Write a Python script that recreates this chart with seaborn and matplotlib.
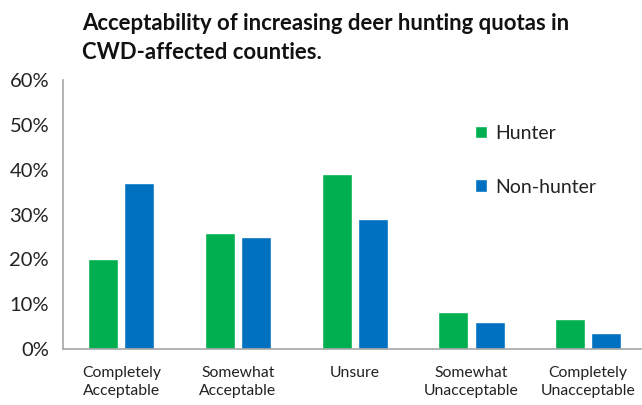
import matplotlib
matplotlib.use("Agg")
import matplotlib.pyplot as plt
import seaborn as sns
import pandas as pd
from matplotlib.ticker import FixedLocator, PercentFormatter

categories = ["Completely\nAcceptable", "Somewhat\nAcceptable", "Unsure",
              "Somewhat\nUnacceptable", "Completely\nUnacceptable"]
hunter = [20, 26, 39, 8.3, 6.7]
non_hunter = [37, 25, 29, 6, 3.5]
groups = ["Hunter", "Non-hunter"]
colors = ["#00B050", "#0070C0"]
title = "Acceptability of increasing deer hunting quotas in\nCWD-affected counties."

df = pd.DataFrame({
    "category": categories * 2,
    "group": [groups[0]] * len(categories) + [groups[1]] * len(categories),
    "value": [v / 100 for v in hunter + non_hunter],
})

sns.set_theme(style="white")
plt.rcParams["font.family"] = ["Lato", "DejaVu Sans"]

fig = plt.figure(figsize=(6.42, 4.05), dpi=100)
ax = fig.add_axes([0.098, 0.138, 0.9, 0.664])

sns.barplot(data=df, x="category", y="value", hue="group", order=categories,
            hue_order=groups, palette=colors, width=0.62, gap=0.17,
            saturation=1, ax=ax, legend=True)

ax.set_ylim(0, 0.6)
ax.set_xlim(-0.5, 4.45)
ax.yaxis.set_major_locator(FixedLocator([i / 10 for i in range(7)]))
ax.yaxis.set_major_formatter(PercentFormatter(1.0, decimals=0))
ax.set_xlabel("")
ax.set_ylabel("")

for side in ["top", "right"]:
    ax.spines[side].set_visible(False)
for side in ["left", "bottom"]:
    ax.spines[side].set_color("#A6A6A6")
    ax.spines[side].set_linewidth(1.2)

ax.tick_params(axis="y", which="major", direction="out", length=5,
               color="#A6A6A6", width=1.2, labelsize=14.5, pad=5,
               labelcolor="#222222")
ax.tick_params(axis="x", which="major", length=0, labelsize=11.3, pad=12,
               labelcolor="#222222")
for lbl in ax.get_xticklabels():
    lbl.set_linespacing(1.35)
ax.xaxis.set_minor_locator(FixedLocator([i + 0.5 for i in range(-1, 4)]))
ax.tick_params(axis="x", which="minor", direction="out", length=5,
               color="#A6A6A6", width=1.2)

leg = ax.legend(loc="upper left", bbox_to_anchor=(0.683, 0.90), frameon=False,
                fontsize=14, handlelength=0.6, handleheight=0.6,
                handletextpad=0.45, labelspacing=1.9)
for t in leg.get_texts():
    t.set_color("#222222")

fig.text(0.128, 0.968, title, ha="left", va="top", fontsize=15.9,
         fontweight="bold", color="#111111", linespacing=1.5)

fig.savefig("out.png", dpi=100)
